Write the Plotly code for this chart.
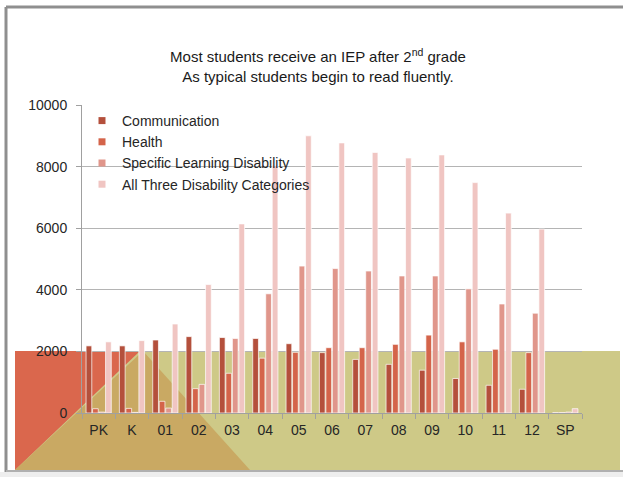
import plotly.graph_objects as go

categories = ["PK", "K", "01", "02", "03", "04", "05", "06", "07", "08", "09", "10", "11", "12", "SP"]
communication = [2180, 2180, 2370, 2480, 2450, 2420, 2250, 1960, 1740, 1580, 1390, 1120, 900, 770, 15]
health = [140, 150, 380, 790, 1290, 1780, 1970, 2120, 2120, 2230, 2530, 2310, 2070, 1960, 15]
sld = [30, 20, 160, 930, 2420, 3870, 4770, 4690, 4610, 4450, 4450, 4030, 3540, 3240, 30]
all_three = [2310, 2350, 2890, 4170, 6140, 8030, 9000, 8770, 8460, 8280, 8380, 7480, 6490, 5970, 140]
y_ticks = [0, 2000, 4000, 6000, 8000, 10000]
y_tick_labels = ["0", "2000", "4000", "6000", "8000", "10000"]

series = [
    ("Communication", communication, "#B4503C"),
    ("Health", health, "#D4644A"),
    ("Specific Learning Disability", sld, "#E0968B"),
    ("All Three Disability Categories", all_three, "#F0C5C2"),
]

W, H = 623, 477
L, R, T, B = 82, 41, 105, 64
pw, ph = W - L - R, H - T - B


def px(x):
    return (x - L) / pw


def py(y):
    return (H - B - y) / ph


fig = go.Figure()
for name, vals, color in series:
    fig.add_trace(go.Bar(
        x=categories, y=vals, name=name, showlegend=False,
        marker=dict(color=color, line=dict(color="rgba(255,255,255,0.7)", width=1)),
    ))
for name, vals, color in series:
    fig.add_trace(go.Scatter(
        x=[None], y=[None], mode="markers", name=name,
        marker=dict(symbol="square", size=7, color=color),
    ))

frame_line = dict(color="#8f8f8f", width=3)
shapes = [
    # light strip under the bottom edge
    dict(type="rect", xref="paper", yref="paper", x0=px(0), x1=px(W), y0=py(H), y1=py(472),
         line=dict(width=0), fillcolor="#eeeeee", layer="below"),
    # frame edges (left, top, bottom)
    dict(type="line", xref="paper", yref="paper", x0=px(6), x1=px(W), y0=py(7), y1=py(7),
         line=frame_line, layer="below"),
    dict(type="line", xref="paper", yref="paper", x0=px(6), x1=px(6), y0=py(7), y1=py(472),
         line=frame_line, layer="below"),
    dict(type="line", xref="paper", yref="paper", x0=px(6), x1=px(W), y0=py(471), y1=py(471),
         line=dict(color="#b0b0b0", width=2), layer="below"),
    # olive band
    dict(type="rect", xref="paper", yref="paper", x0=px(15), x1=px(620), y0=py(470), y1=py(351),
         line=dict(width=0), fillcolor="#CEC987", layer="below"),
    # red triangle
    dict(type="path", xref="paper", yref="paper",
         path=f"M{px(15)},{py(351)} L{px(140)},{py(351)} L{px(15)},{py(470)} Z",
         line=dict(width=0), fillcolor="#DA674D", layer="below"),
    # tan triangle
    dict(type="path", xref="paper", yref="paper",
         path=f"M{px(15)},{py(470)} L{px(143)},{py(351)} L{px(250)},{py(470)} Z",
         line=dict(width=0), fillcolor="#C9A963", layer="below"),
]

fig.update_layout(
    width=W, height=H,
    margin=dict(l=L, r=R, t=T, b=B),
    paper_bgcolor="white",
    plot_bgcolor="rgba(0,0,0,0)",
    barmode="group", bargap=0.22, bargroupgap=0.12,
    font=dict(family="Liberation Sans, Arial, sans-serif", color="#262626", size=14),
    title=dict(
        text="Most students receive an IEP after 2<sup>nd</sup> grade<br>As typical students begin to read fluently.",
        x=px(318), xanchor="center", xref="paper",
        y=1 - 62 / H, yanchor="top", yref="container",
        font=dict(size=15, color="#1a1a1a"),
    ),
    shapes=shapes,
    legend=dict(
        x=px(82), y=py(105), xanchor="left", yanchor="top",
        bgcolor="rgba(0,0,0,0)", font=dict(size=14, color="#262626"),
        itemwidth=30, tracegroupgap=0,
    ),
    xaxis=dict(
        type="category", showline=True, linecolor="#a0a0a0", linewidth=1,
        ticks="outside", ticklen=5, tickcolor="#a0a0a0", tickson="boundaries",
        showgrid=False, ticklabelstandoff=4,
    ),
    yaxis=dict(
        range=[0, 10000], tickvals=y_ticks, ticktext=y_tick_labels,
        showline=True, linecolor="#a0a0a0", linewidth=1,
        ticks="outside", ticklen=5, tickcolor="#a0a0a0",
        showgrid=True, gridcolor="#b4b4b4", gridwidth=1, zeroline=False,
        ticklabelstandoff=6,
    ),
)

fig.write_html("out.html")
